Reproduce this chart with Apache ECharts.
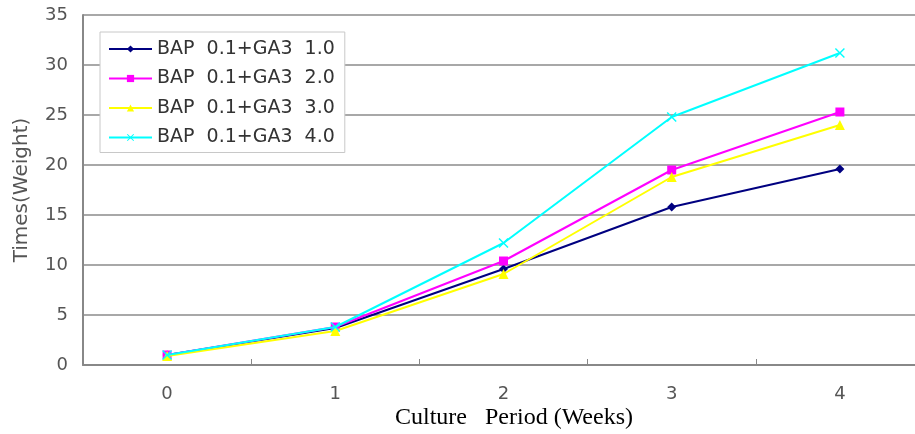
<!DOCTYPE html>
<html>
<head>
<meta charset="utf-8">
<script src="https://cdn.jsdelivr.net/npm/echarts@6/dist/echarts.min.js"></script>
<style>
  html, body { margin: 0; padding: 0; background: #ffffff; }
  #chart { width: 915px; height: 434px; }
</style>
</head>
<body>
<div id="chart"></div>
<script>
// Culture period (weeks) on the x axis
const weeks = ['0', '1', '2', '3', '4'];

// Fold increase in weight for each BAP + GA3 treatment
const ga3_10 = [1.0, 3.7, 9.6, 15.8, 19.6];
const ga3_20 = [1.0, 3.8, 10.4, 19.5, 25.3];
const ga3_30 = [0.9, 3.4, 9.1, 18.8, 24.0];
const ga3_40 = [1.0, 3.8, 12.2, 24.8, 31.2];

const seriesNames = ['BAP  0.1+GA3  1.0', 'BAP  0.1+GA3  2.0', 'BAP  0.1+GA3  3.0', 'BAP  0.1+GA3  4.0'];
const yTicks = [0, 5, 10, 15, 20, 25, 30, 35];

// Cross-shaped marker outline
const crossSymbol = 'path://M0,1L1,0L5,4L9,0L10,1L6,5L10,9L9,10L5,6L1,10L0,9L4,5Z';

const styles = [
  { color: '#000080', symbol: 'diamond', size: 9 },
  { color: '#ff00ff', symbol: 'rect', size: 9 },
  { color: '#ffff00', symbol: 'triangle', size: 10 },
  { color: '#00ffff', symbol: crossSymbol, size: 10 }
];
const values = [ga3_10, ga3_20, ga3_30, ga3_40];

const sans = '"DejaVu Sans", Verdana, sans-serif';

const chart = echarts.init(document.getElementById('chart'));

chart.setOption({
  backgroundColor: '#ffffff',
  animation: false,
  textStyle: { fontFamily: sans },
  grid: { left: 83, top: 15, width: 841, height: 350, containLabel: false, outerBoundsMode: 'none' },
  legend: {
    data: seriesNames,
    orient: 'vertical',
    left: 100,
    top: 32,
    padding: [7, 10, 5, 8],
    itemWidth: 43,
    itemHeight: 9,
    itemGap: 9.5,
    borderColor: '#c8c8c8',
    borderWidth: 1,
    backgroundColor: '#ffffff',
    textStyle: { fontSize: 19, lineHeight: 20, color: '#333333', fontFamily: sans }
  },
  xAxis: {
    type: 'category',
    data: weeks,
    boundaryGap: true,
    axisLine: { show: true, lineStyle: { color: '#888888', width: 2 } },
    axisTick: { show: true, inside: true, length: 6, lineStyle: { color: '#888888' } },
    axisLabel: { margin: 20, fontSize: 18, color: '#555555' },
    splitLine: { show: false }
  },
  yAxis: {
    type: 'value',
    min: yTicks[0],
    max: yTicks[yTicks.length - 1],
    interval: 5,
    name: 'Times(Weight)',
    nameLocation: 'middle',
    nameGap: 51,
    nameRotate: 90,
    nameTextStyle: { fontSize: 20, color: '#555555' },
    axisLine: { show: true, lineStyle: { color: '#888888', width: 2 } },
    axisTick: { show: false },
    axisLabel: { margin: 15, fontSize: 18, color: '#555555' },
    splitLine: { show: true, lineStyle: { color: '#a8a8a8', width: 2 } }
  },
  graphic: [{
    type: 'text',
    left: 395,
    top: 406,
    style: {
      text: 'Culture   Period (Weeks)',
      font: '24px "Liberation Serif", "Times New Roman", serif',
      fill: '#000000'
    }
  }],
  series: seriesNames.map((name, i) => ({
    name: name,
    type: 'line',
    data: values[i],
    symbol: styles[i].symbol,
    symbolSize: styles[i].size,
    showSymbol: true,
    lineStyle: { color: styles[i].color, width: 2 },
    itemStyle: { color: styles[i].color },
    z: 2 + i
  }))
});
</script>
</body>
</html>
